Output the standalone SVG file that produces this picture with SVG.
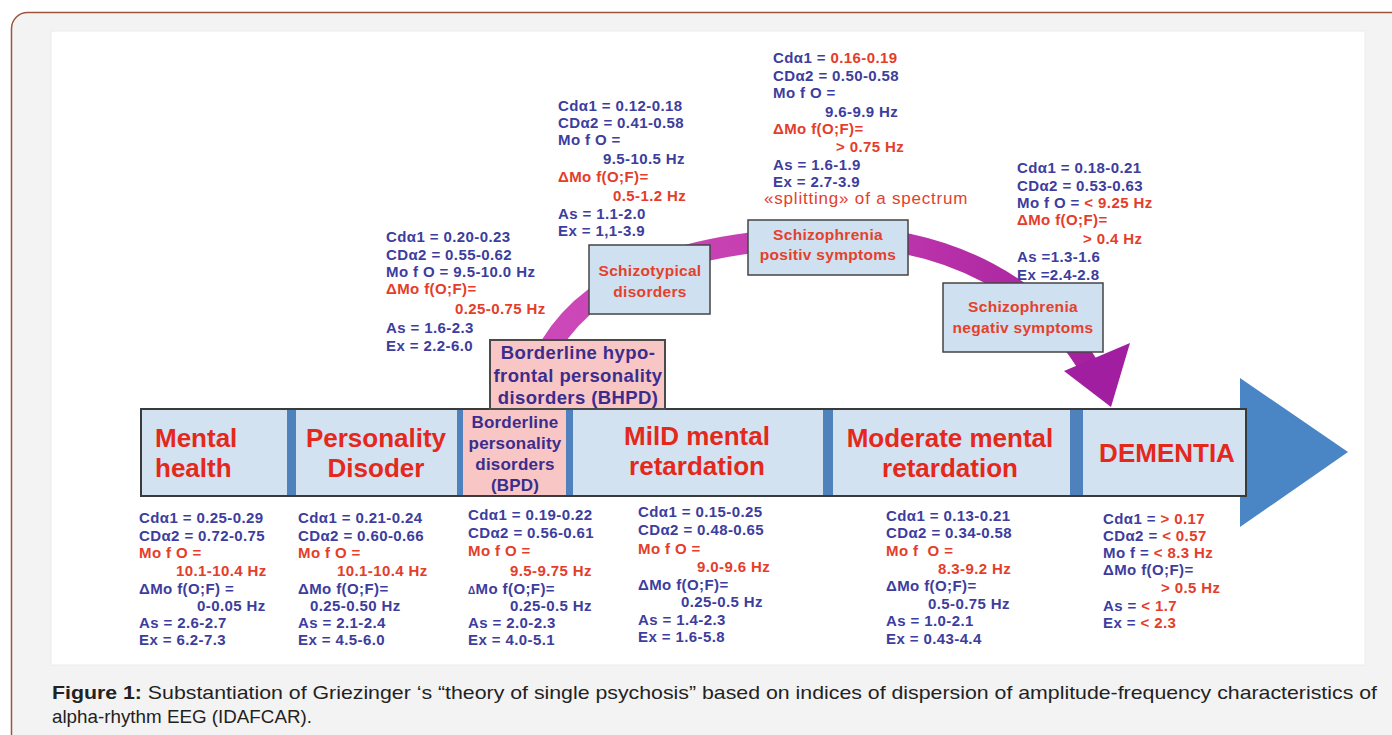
<svg xmlns="http://www.w3.org/2000/svg" width="1392" height="735" viewBox="0 0 1392 735">
<defs>
<linearGradient id="mag" x1="0" y1="0" x2="1" y2="0">
<stop offset="0" stop-color="#cc48b8"/>
<stop offset="0.5" stop-color="#c53db0"/>
<stop offset="1" stop-color="#a5209f"/>
</linearGradient>
<style>
.t{font-family:"Liberation Sans",Arial,sans-serif;font-weight:bold;font-size:15px;letter-spacing:0.4px;fill:#3d3d9e}
.r{fill:#e43d2a}
.bar{fill:#d3e2f1;stroke:#3a3a3a;stroke-width:2}
.sep{fill:#4f81bd}
.big{font-family:"Liberation Sans",Arial,sans-serif;font-weight:bold;font-size:26px;fill:#e4281c}
.pk{fill:#f9c6c6;stroke:#4a4a4a;stroke-width:2}
.pt{font-family:"Liberation Sans",Arial,sans-serif;font-weight:bold;font-size:18.5px;letter-spacing:0.4px;fill:#3a2d8c}
.bx{fill:#cfe0f0;stroke:#444;stroke-width:1.5}
.bt{font-family:"Liberation Sans",Arial,sans-serif;font-weight:bold;font-size:15.5px;letter-spacing:0.3px;fill:#e4402c}
</style>
</defs>
<rect x="11.5" y="12.5" width="1400" height="740" rx="16" fill="#f3f3f3" stroke="#9c5640" stroke-width="1.5"/>
<rect x="51" y="31" width="1314" height="634" fill="#ffffff" stroke="#ececec" stroke-width="1"/>

<g id="connectors">
<path d="M 551 345 C 600 265 710 240 830 237 C 950 235 1045 290 1092 372" fill="none" stroke="url(#mag)" stroke-width="21"/>
<polygon points="1064,371 1130,343 1111,407" fill="#a11ea0"/>
</g>

<g id="main-arrow">
<polygon points="1240,378 1348,452 1240,527" fill="#4a86c5"/>
<rect x="141" y="409" width="1105" height="87" class="bar"/>
</g>

<g id="mental-health">
<text class="big" x="155" y="447">Mental</text>
<text class="big" x="155" y="477">health</text>
</g>
<rect class="sep" x="287" y="410" width="9" height="85"/>
<g id="personality-disoder">
<text class="big" x="376" y="447" text-anchor="middle">Personality</text>
<text class="big" x="376" y="477" text-anchor="middle">Disoder</text>
</g>
<rect class="sep" x="457" y="410" width="6" height="85"/>
<g id="bpd">
<rect x="463" y="410" width="103" height="85" fill="#f9c6c6"/>
<text class="pt" x="515" y="428" text-anchor="middle" style="font-size:17px;letter-spacing:0.2px">Borderline</text>
<text class="pt" x="515" y="449" text-anchor="middle" style="font-size:17px;letter-spacing:0.2px">personality</text>
<text class="pt" x="515" y="470" text-anchor="middle" style="font-size:17px;letter-spacing:0.2px">disorders</text>
<text class="pt" x="515" y="491" text-anchor="middle" style="font-size:17px;letter-spacing:0.2px">(BPD)</text>
</g>
<rect class="sep" x="566" y="410" width="7" height="85"/>
<g id="mild">
<text class="big" x="697" y="445" text-anchor="middle">MilD mental</text>
<text class="big" x="697" y="475" text-anchor="middle">retardation</text>
</g>
<rect class="sep" x="823" y="410" width="10" height="85"/>
<g id="moderate">
<text class="big" x="950" y="447" text-anchor="middle">Moderate mental</text>
<text class="big" x="950" y="477" text-anchor="middle">retardation</text>
</g>
<rect class="sep" x="1070" y="410" width="13" height="85"/>
<g id="dementia">
<text class="big" x="1167" y="462" text-anchor="middle">DEMENTIA</text>
</g>

<g id="bhpd">
<rect class="pk" x="490" y="340" width="175" height="69"/>
<text class="pt" x="578" y="359" text-anchor="middle">Borderline hypo-</text>
<text class="pt" x="578" y="382" text-anchor="middle">frontal personality</text>
<text class="pt" x="578" y="404" text-anchor="middle">disorders (BHPD)</text>
</g>

<g id="schizotypical">
<rect class="bx" x="589" y="245" width="121" height="69"/>
<text class="bt" x="650" y="276" text-anchor="middle">Schizotypical</text>
<text class="bt" x="650" y="297" text-anchor="middle">disorders</text>
</g>

<g id="schizo-positiv">
<rect class="bx" x="748" y="220" width="160" height="55"/>
<text class="bt" x="828" y="240" text-anchor="middle">Schizophrenia</text>
<text class="bt" x="828" y="260" text-anchor="middle">positiv symptoms</text>
</g>

<g id="schizo-negativ">
<rect class="bx" x="943" y="283" width="160" height="69"/>
<text class="bt" x="1023" y="312" text-anchor="middle">Schizophrenia</text>
<text class="bt" x="1023" y="333" text-anchor="middle">negativ symptoms</text>
</g>

<g id="stats-bhpd">
<text class="t" x="386" y="242">Cdα1 = 0.20-0.23</text>
<text class="t" x="386" y="260">CDα2 = 0.55-0.62</text>
<text class="t" x="386" y="277">Mo f O = 9.5-10.0 Hz</text>
<text class="t r" x="386" y="294">ΔMo f(O;F)=</text>
<text class="t r" x="455" y="314">0.25-0.75 Hz</text>
<text class="t" x="386" y="333">As = 1.6-2.3</text>
<text class="t" x="386" y="351">Ex = 2.2-6.0</text>
</g>

<g id="stats-schizotypical">
<text class="t" x="558" y="111">Cdα1 = 0.12-0.18</text>
<text class="t" x="558" y="128">CDα2 = 0.41-0.58</text>
<text class="t" x="558" y="145">Mo f O =</text>
<text class="t" x="603" y="164">9.5-10.5 Hz</text>
<text class="t r" x="558" y="182">ΔMo f(O;F)=</text>
<text class="t r" x="613" y="201">0.5-1.2 Hz</text>
<text class="t" x="558" y="219">As = 1.1-2.0</text>
<text class="t" x="558" y="236">Ex = 1,1-3.9</text>
</g>

<g id="stats-positiv">
<text class="t" x="773" y="63">Cdα1 = <tspan class="r">0.16-0.19</tspan></text>
<text class="t" x="773" y="81">CDα2 = 0.50-0.58</text>
<text class="t" x="773" y="98">Mo f O =</text>
<text class="t" x="825" y="117">9.6-9.9 Hz</text>
<text class="t r" x="773" y="134">ΔMo f(O;F)=</text>
<text class="t r" x="836" y="152">&gt; 0.75 Hz</text>
<text class="t" x="773" y="170">As = 1.6-1.9</text>
<text class="t" x="773" y="187">Ex = 2.7-3.9</text>
<text x="764" y="204" style="font-family:'Liberation Sans',Arial,sans-serif;font-size:17px;letter-spacing:0.8px;fill:#e4402c">«splitting» of a spectrum</text>
</g>

<g id="stats-negativ">
<text class="t" x="1017" y="173">Cdα1 = 0.18-0.21</text>
<text class="t" x="1017" y="191">CDα2 = 0.53-0.63</text>
<text class="t" x="1017" y="208">Mo f O = <tspan class="r">&lt; 9.25 Hz</tspan></text>
<text class="t r" x="1017" y="225">ΔMo f(O;F)=</text>
<text class="t r" x="1083" y="244">&gt; 0.4 Hz</text>
<text class="t" x="1017" y="262">As =1.3-1.6</text>
<text class="t" x="1017" y="280">Ex =2.4-2.8</text>
</g>

<g id="stats-mental-health">
<text class="t" x="139" y="523">Cdα1 = 0.25-0.29</text>
<text class="t" x="139" y="541">CDα2 = 0.72-0.75</text>
<text class="t r" x="139" y="558">Mo f O =</text>
<text class="t r" x="176" y="576">10.1-10.4 Hz</text>
<text class="t" x="139" y="594">ΔMo f(O;F) =</text>
<text class="t" x="197" y="611">0-0.05 Hz</text>
<text class="t" x="139" y="628">As = 2.6-2.7</text>
<text class="t" x="139" y="645">Ex = 6.2-7.3</text>
</g>

<g id="stats-personality">
<text class="t" x="298" y="523">Cdα1 = 0.21-0.24</text>
<text class="t" x="298" y="541">CDα2 = 0.60-0.66</text>
<text class="t r" x="298" y="558">Mo f O =</text>
<text class="t r" x="337" y="576">10.1-10.4 Hz</text>
<text class="t" x="298" y="594">ΔMo f(O;F)=</text>
<text class="t" x="310" y="611">0.25-0.50 Hz</text>
<text class="t" x="298" y="628">As = 2.1-2.4</text>
<text class="t" x="298" y="645">Ex = 4.5-6.0</text>
</g>

<g id="stats-bpd">
<text class="t" x="468" y="520">Cdα1 = 0.19-0.22</text>
<text class="t" x="468" y="538">CDα2 = 0.56-0.61</text>
<text class="t r" x="468" y="556">Mo f O =</text>
<text class="t r" x="510" y="576">9.5-9.75 Hz</text>
<text class="t" x="468" y="594"><tspan style="font-size:10px">Δ</tspan>Mo f(O;F)=</text>
<text class="t" x="510" y="611">0.25-0.5 Hz</text>
<text class="t" x="468" y="628">As = 2.0-2.3</text>
<text class="t" x="468" y="645">Ex = 4.0-5.1</text>
</g>

<g id="stats-mild">
<text class="t" x="638" y="517">Cdα1 = 0.15-0.25</text>
<text class="t" x="638" y="535">CDα2 = 0.48-0.65</text>
<text class="t r" x="638" y="554">Mo f O =</text>
<text class="t r" x="697" y="572">9.0-9.6 Hz</text>
<text class="t" x="638" y="590">ΔMo f(O;F)=</text>
<text class="t" x="681" y="607">0.25-0.5 Hz</text>
<text class="t" x="638" y="625">As = 1.4-2.3</text>
<text class="t" x="638" y="642">Ex = 1.6-5.8</text>
</g>

<g id="stats-moderate">
<text class="t" x="886" y="521">Cdα1 = 0.13-0.21</text>
<text class="t" x="886" y="538">CDα2 = 0.34-0.58</text>
<text class="t r" x="886" y="556" xml:space="preserve">Mo f  O =</text>
<text class="t r" x="938" y="574">8.3-9.2 Hz</text>
<text class="t" x="886" y="591">ΔMo f(O;F)=</text>
<text class="t" x="928" y="609">0.5-0.75 Hz</text>
<text class="t" x="886" y="626">As = 1.0-2.1</text>
<text class="t" x="886" y="644">Ex = 0.43-4.4</text>
</g>

<g id="stats-dementia">
<text class="t" x="1103" y="524">Cdα1 = <tspan class="r">&gt; 0.17</tspan></text>
<text class="t" x="1103" y="541">CDα2 = <tspan class="r">&lt; 0.57</tspan></text>
<text class="t" x="1103" y="558">Mo f = <tspan class="r">&lt; 8.3 Hz</tspan></text>
<text class="t" x="1103" y="575">ΔMo f(O;F)=</text>
<text class="t r" x="1161" y="593">&gt; 0.5 Hz</text>
<text class="t" x="1103" y="611">As = <tspan class="r">&lt; 1.7</tspan></text>
<text class="t" x="1103" y="628">Ex = <tspan class="r">&lt; 2.3</tspan></text>
</g>

<g id="caption" style="font-family:'Liberation Sans Narrow','Liberation Sans',Arial,sans-serif;font-size:18.5px;fill:#222">
<text x="52" y="699" textLength="1325" lengthAdjust="spacingAndGlyphs"><tspan font-weight="bold">Figure 1:</tspan> Substantiation of Griezinger ‘s “theory of single psychosis” based on indices of dispersion of amplitude-frequency characteristics of</text>
<text x="52" y="723" textLength="260" lengthAdjust="spacingAndGlyphs">alpha-rhythm EEG (IDAFCAR).</text>
</g>
</svg>
